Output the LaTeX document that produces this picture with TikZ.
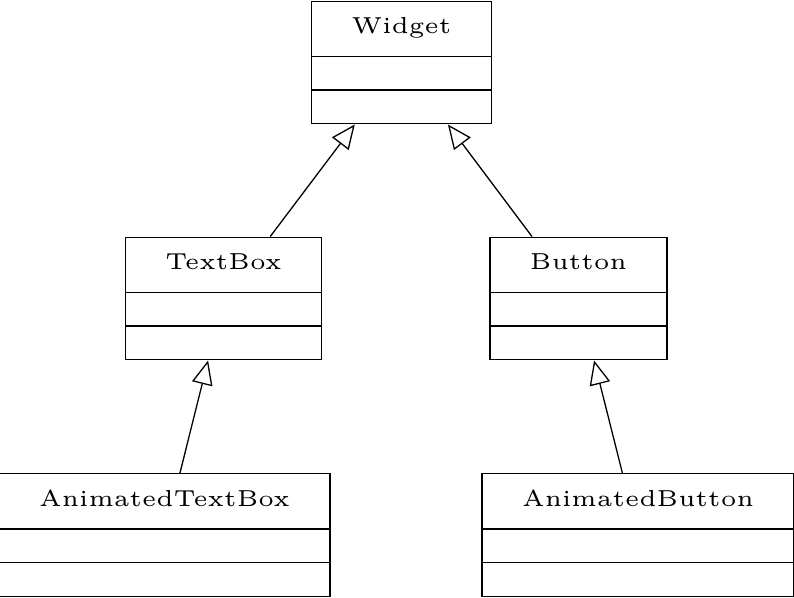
\documentclass[tikz,border=0pt]{standalone}
\usetikzlibrary{shapes.multipart,arrows.meta}
\newcommand{\classname}[1]{\rule[-2.25pt]{0pt}{6.65pt}#1}
\newcommand{\classgap}{\rule{0pt}{2.0pt}}
\begin{document}
\begin{tikzpicture}[x=0.216pt, y=-0.216pt, font=\tiny,
  umlclass/.style={draw, line width=0.28pt, rectangle split, rectangle split parts=3,
    inner xsep=8.64pt, inner ysep=2.5pt},
  inherit/.style={line width=0.28pt, -{Triangle[open, length=5.2pt, width=4.5pt]}}]
  \useasboundingbox (0,0) rectangle (794,598);
  \node [umlclass] (widget) at (401.5,62.5) {\classname{Widget}\nodepart{two}\classgap\nodepart{three}\classgap};
  \node [umlclass] (textbox) at (223.5,298.5) {\classname{TextBox}\nodepart{two}\classgap\nodepart{three}\classgap};
  \node [umlclass] (button) at (578.5,298.5) {\classname{Button}\nodepart{two}\classgap\nodepart{three}\classgap};
  \node [umlclass] (animtextbox) at (164.5,535) {\classname{AnimatedTextBox}\nodepart{two}\classgap\nodepart{three}\classgap};
  \node [umlclass] (animbutton) at (638,535) {\classname{AnimatedButton}\nodepart{two}\classgap\nodepart{three}\classgap};
  \draw [inherit] (textbox) -- (widget);
  \draw [inherit] (button) -- (widget);
  \draw [inherit] (animtextbox) -- (textbox);
  \draw [inherit] (animbutton) -- (button);
\end{tikzpicture}
\end{document}
